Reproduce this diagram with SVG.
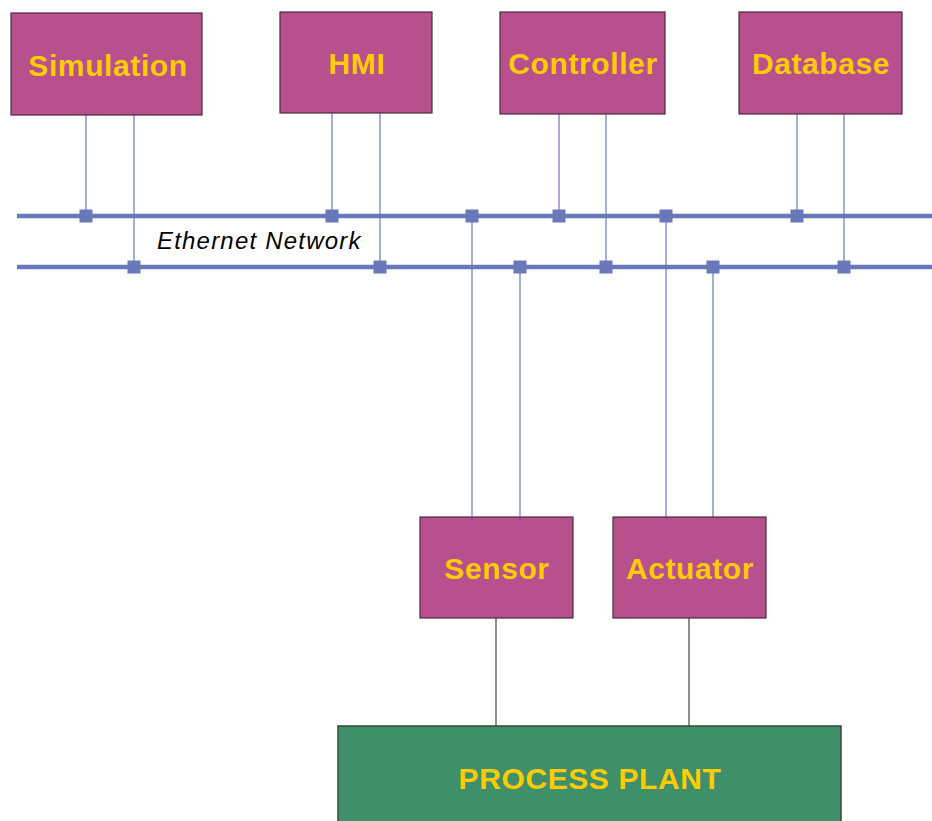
<svg xmlns="http://www.w3.org/2000/svg" width="932" height="821" viewBox="0 0 932 821">
<style>
.node{fill:#B8508E;stroke:#4a2a3c;stroke-width:1.2}
.plant{fill:#3F8F6B;stroke:#2f4a3c;stroke-width:1.5}
.lbl{font-family:"Liberation Sans",Arial,sans-serif;font-weight:bold;font-size:30px;letter-spacing:0.6px;fill:#FFCC00;text-anchor:middle}
.bus{stroke:#6878B8;stroke-width:4.5}
.drop{stroke:#6878B8;stroke-width:1.2;fill:none}
.plantline{stroke:#444;stroke-width:1.2}
.sq{fill:#6878B8}
.net{font-family:"Liberation Sans",Arial,sans-serif;font-style:italic;font-size:24px;letter-spacing:1.2px;fill:#000}
</style>
<rect width="932" height="821" fill="#fff"/>
<g id="connectors">
<line class="bus" x1="17" y1="216" x2="932" y2="216"/>
<line class="bus" x1="17" y1="267" x2="932" y2="267"/>
<line class="drop" x1="86" y1="115" x2="86" y2="216"/>
<line class="drop" x1="134" y1="115" x2="134" y2="267"/>
<line class="drop" x1="332" y1="113" x2="332" y2="216"/>
<line class="drop" x1="380" y1="113" x2="380" y2="267"/>
<line class="drop" x1="559" y1="114" x2="559" y2="216"/>
<line class="drop" x1="606" y1="114" x2="606" y2="267"/>
<line class="drop" x1="797" y1="114" x2="797" y2="216"/>
<line class="drop" x1="844" y1="114" x2="844" y2="267"/>
<line class="drop" x1="472" y1="216" x2="472" y2="517"/>
<line class="drop" x1="520" y1="267" x2="520" y2="517"/>
<line class="drop" x1="666" y1="216" x2="666" y2="517"/>
<line class="drop" x1="713" y1="267" x2="713" y2="517"/>
<line class="plantline" x1="496" y1="618" x2="496" y2="727"/>
<line class="plantline" x1="689" y1="618" x2="689" y2="727"/>
<rect class="sq" x="79.500" y="209.500" width="13" height="13"/>
<rect class="sq" x="325.500" y="209.500" width="13" height="13"/>
<rect class="sq" x="465.500" y="209.500" width="13" height="13"/>
<rect class="sq" x="552.500" y="209.500" width="13" height="13"/>
<rect class="sq" x="659.500" y="209.500" width="13" height="13"/>
<rect class="sq" x="790.500" y="209.500" width="13" height="13"/>
<rect class="sq" x="127.500" y="260.500" width="13" height="13"/>
<rect class="sq" x="373.500" y="260.500" width="13" height="13"/>
<rect class="sq" x="513.500" y="260.500" width="13" height="13"/>
<rect class="sq" x="599.500" y="260.500" width="13" height="13"/>
<rect class="sq" x="706.500" y="260.500" width="13" height="13"/>
<rect class="sq" x="837.500" y="260.500" width="13" height="13"/>
<text class="net" x="157" y="249">Ethernet Network</text>
</g>
<g id="simulation"><rect class="node" x="11" y="13" width="191" height="102"/><text class="lbl" x="108" y="76">Simulation</text></g>
<g id="hmi"><rect class="node" x="280" y="12" width="152" height="101"/><text class="lbl" x="357" y="74">HMI</text></g>
<g id="controller"><rect class="node" x="500" y="12" width="165" height="102"/><text class="lbl" x="583" y="74">Controller</text></g>
<g id="database"><rect class="node" x="739" y="12" width="163" height="102"/><text class="lbl" x="821" y="74">Database</text></g>
<g id="sensor"><rect class="node" x="420" y="517" width="153" height="101"/><text class="lbl" x="497" y="579">Sensor</text></g>
<g id="actuator"><rect class="node" x="613" y="517" width="153" height="101"/><text class="lbl" x="690" y="579">Actuator</text></g>
<g id="plant"><rect class="plant" x="338" y="726" width="503" height="100"/><text class="lbl" x="590" y="789">PROCESS PLANT</text></g>
</svg>
